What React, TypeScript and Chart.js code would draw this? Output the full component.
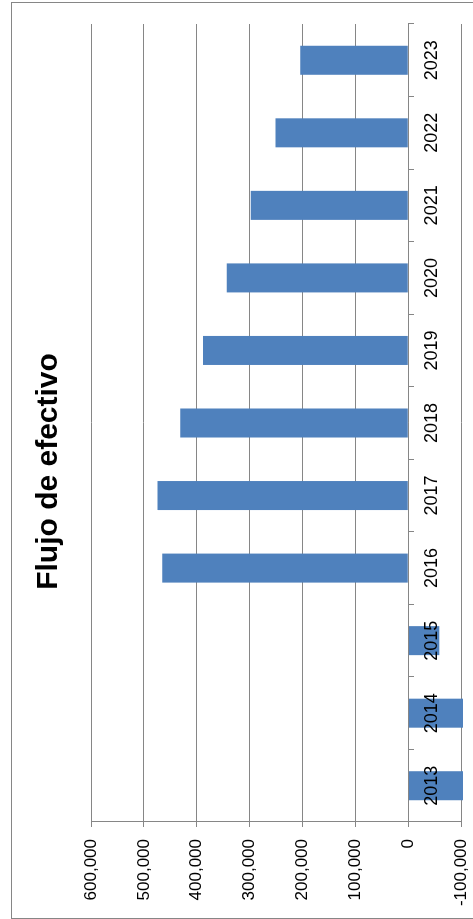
import React, { useEffect, useRef } from "react";
import { Chart, registerables } from "chart.js";

Chart.register(...registerables);

// ---- data ----
const categories: string[] = ["2013", "2014", "2015", "2016", "2017", "2018", "2019", "2020", "2021", "2022", "2023"];
const flujoEfectivo: number[] = [-104000, -104000, -59000, 465000, 474000, 431000, 388000, 343000, 298000, 251000, 204000];
const valueMin = -100000;
const valueMax = 600000;
const valueStep = 100000;
const chartTitle = "Flujo de efectivo";

// chart is drawn upright, then turned a quarter turn counter-clockwise
const W = 917;
const H = 467;

const GRID = "#868686";
const BAR = "#4F81BD";

const framePlugin = {
  id: "frame",
  afterDraw(chart: any) {
    const ctx = chart.ctx;
    ctx.save();
    ctx.strokeStyle = GRID;
    ctx.lineWidth = 1;
    ctx.strokeRect(0.5, 0.5, chart.width - 1, chart.height - 1);
    ctx.restore();
  },
};

export default function App() {
  const ref = useRef<HTMLCanvasElement | null>(null);

  useEffect(() => {
    if (!ref.current) return;
    const chart = new Chart(ref.current, {
      type: "bar",
      data: {
        labels: categories,
        datasets: [
          {
            label: chartTitle,
            data: flujoEfectivo,
            backgroundColor: BAR,
            borderWidth: 0,
            categoryPercentage: 0.4,
            barPercentage: 1,
            clip: false as any,
          },
        ],
      },
      options: {
        responsive: false,
        animation: false,
        devicePixelRatio: 1,
        layout: { padding: { top: 0, left: 0, right: 22, bottom: 17 } },
        plugins: {
          legend: { display: false },
          tooltip: { enabled: false },
          title: {
            display: true,
            text: chartTitle,
            color: "#000",
            font: { family: "'Liberation Sans', Arial, sans-serif", size: 30, weight: "bold", lineHeight: 1.2 },
            padding: { top: 20, bottom: 24 },
          },
        },
        scales: {
          x: {
            position: { y: 0 } as any,
            grid: {
              drawOnChartArea: false,
              drawTicks: true,
              tickLength: 5,
              color: GRID,
              offset: true,
              z: 1,
            },
            border: { display: true, color: GRID, z: 1 },
            ticks: {
              z: 1,
              padding: 8,
              color: "#000",
              maxRotation: 0,
              autoSkip: false,
              font: { family: "'Liberation Sans Narrow', 'Liberation Sans', sans-serif", size: 18 },
            },
          },
          y: {
            min: valueMin,
            max: valueMax,
            ticks: {
              stepSize: valueStep,
              padding: 12,
              color: "#000",
              font: { family: "'Liberation Sans', Arial, sans-serif", size: 17 },
            },
            grid: { color: GRID, tickLength: 5, drawTicks: true },
            border: { display: true, color: GRID },
            afterFit: (s: any) => {
              s.width = 97;
              s.paddingTop = 0;
              s.paddingBottom = 0;
            },
          },
        },
      },
      plugins: [framePlugin],
    });
    return () => chart.destroy();
  }, []);

  return (
    <div
      style={{
        position: "absolute",
        left: 0,
        top: 0,
        width: 473,
        height: 919,
        overflow: "hidden",
        background: "#fff",
      }}
    >
      <div
        style={{
          position: "absolute",
          left: 0,
          top: 0,
          width: W,
          height: H,
          transformOrigin: "0 0",
          transform: "translate(11px, 919px) rotate(-90deg)",
        }}
      >
        <canvas ref={ref} width={W} height={H} style={{ display: "block" }} />
      </div>
    </div>
  );
}
